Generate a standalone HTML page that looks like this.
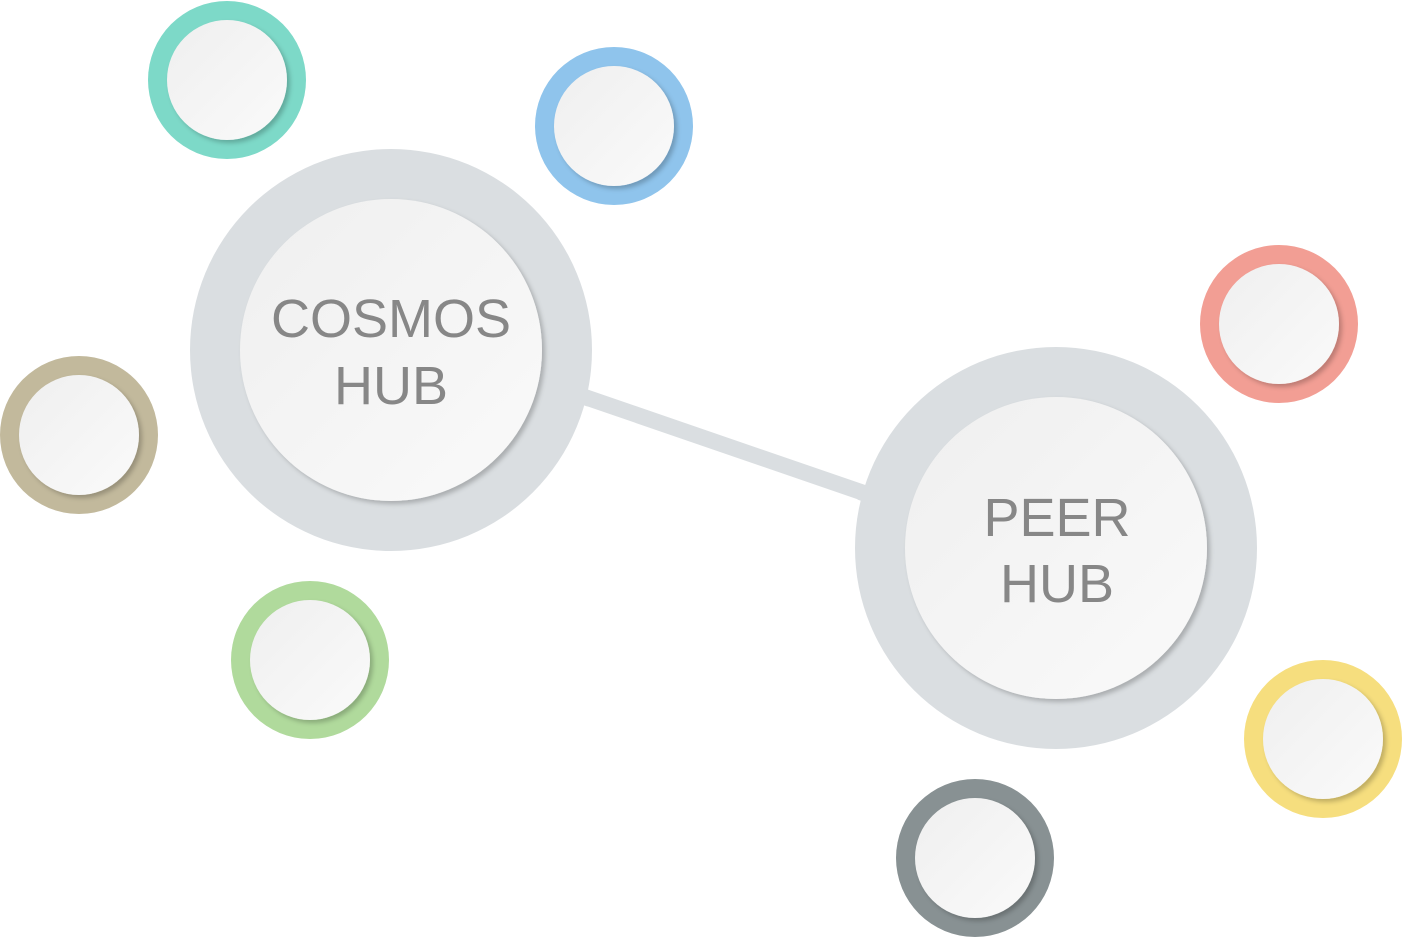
<!DOCTYPE html>
<html><head><meta charset="utf-8"><style>
html,body{margin:0;padding:0;background:#fff;}
svg{display:block}
text{font-family:"Liberation Sans",sans-serif;fill:#878787;text-anchor:middle}
</style></head><body>
<svg width="1403" height="938" viewBox="0 0 1403 938" xmlns="http://www.w3.org/2000/svg">
<defs>
<linearGradient id="g" x1="0" y1="0" x2="1" y2="1">
<stop offset="0" stop-color="#efefef"/><stop offset="1" stop-color="#fafafa"/>
</linearGradient>
<filter id="s" x="-20%" y="-20%" width="140%" height="140%">
<feDropShadow dx="3" dy="3" stdDeviation="2.5" flood-color="#000" flood-opacity="0.22"/>
</filter>
</defs>
<line x1="550" y1="385" x2="893" y2="503" stroke="#dadee1" stroke-width="16"/>
<circle cx="391" cy="350" r="201" fill="#dadee1"/>
<circle cx="391" cy="350" r="151" fill="url(#g)" filter="url(#s)"/>
<circle cx="1056" cy="548" r="201" fill="#dadee1"/>
<circle cx="1056" cy="548" r="151" fill="url(#g)" filter="url(#s)"/>
<line x1="550" y1="385" x2="590" y2="399" stroke="#dadee1" stroke-width="16"/>
<line x1="860" y1="492" x2="893" y2="503" stroke="#dadee1" stroke-width="16"/>
<g>
<circle cx="227" cy="80" r="79" fill="#7dd9c8"/><circle cx="227" cy="80" r="60" fill="url(#g)" filter="url(#s)"/>
<circle cx="614" cy="126" r="79" fill="#8fc4ec"/><circle cx="614" cy="126" r="60" fill="url(#g)" filter="url(#s)"/>
<circle cx="1279" cy="324" r="79" fill="#f29e94"/><circle cx="1279" cy="324" r="60" fill="url(#g)" filter="url(#s)"/>
<circle cx="79" cy="435" r="79" fill="#c2b99c"/><circle cx="79" cy="435" r="60" fill="url(#g)" filter="url(#s)"/>
<circle cx="310" cy="660" r="79" fill="#b0da9c"/><circle cx="310" cy="660" r="60" fill="url(#g)" filter="url(#s)"/>
<circle cx="1323" cy="739" r="79" fill="#f6de7e"/><circle cx="1323" cy="739" r="60" fill="url(#g)" filter="url(#s)"/>
<circle cx="975" cy="858" r="79" fill="#889193"/><circle cx="975" cy="858" r="60" fill="url(#g)" filter="url(#s)"/>
</g>
<text x="391" y="337" font-size="54">COSMOS</text>
<text x="391" y="404" font-size="54">HUB</text>
<text x="1057" y="536" font-size="54">PEER</text>
<text x="1057" y="602" font-size="54">HUB</text>
</svg>
</body></html>
